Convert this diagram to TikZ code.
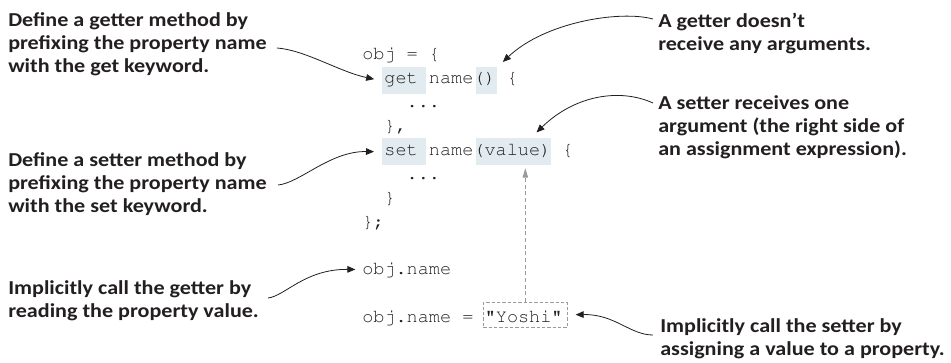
\documentclass[tikz,border=0pt]{standalone}
\usepackage{fontspec}
\setmainfont{Carlito}[FakeStretch=1.12]
\usetikzlibrary{arrows.meta,calc}
\definecolor{ink}{HTML}{231F20}
\definecolor{hlblue}{HTML}{E1EBF0}
\definecolor{dgray}{HTML}{9A9A9A}
\newcommand\codefnt{\fontencoding{T1}\fontfamily{pcr}\fontseries{m}\fontshape{n}\fontsize{13.9}{17}\selectfont}
\newcommand\lblfnt{\bfseries\fontsize{14.8}{17.25}\selectfont}
\begin{document}
\begin{tikzpicture}[x=0.75pt,y=-0.75pt,
  lbl/.style={font=\lblfnt, text=ink, align=left, anchor=north west, inner sep=0pt},
  code/.style={font=\codefnt, text=ink, anchor=base west, inner sep=0pt},
  hl/.style={fill=hlblue, draw=none, inner sep=0pt, anchor=north west},
  conn/.style={draw=ink, line width=0.6pt, -{Triangle[length=6pt,width=5pt]}, shorten >=6pt},
  gconn/.style={draw=dgray, line width=0.6pt, dash pattern=on 3pt off 2pt, -{Triangle[length=7pt,width=4pt]}, shorten >=2pt}
]
\useasboundingbox (0,0) rectangle (951,362);
% highlights
\node[hl, minimum width=33pt, minimum height=20.25pt] (hget) at (382,67) {};
\node[hl, minimum width=15.75pt, minimum height=20.25pt] (hparen) at (476,67) {};
\node[hl, minimum width=33pt, minimum height=20.25pt] (hset) at (382,138) {};
\node[hl, minimum width=56.25pt, minimum height=20.25pt] (hval) at (476,138) {};
\node[draw=dgray, dash pattern=on 2.5pt off 1.5pt, line width=0.5pt, minimum width=63pt, minimum height=18.75pt, anchor=north west, inner sep=0pt] (yoshi) at (483,302) {};
% code
\node[code] (c1) at (362,59) {obj = \{};
\node[code] (c2) at (384.2,83) {get name() \{};
\node[code] (c3) at (406.4,107) {...};
\node[code] (c4) at (384.2,131) {\},};
\node[code] (c5) at (384.2,155) {set name(value) \{};
\node[code] (c6) at (406.4,179) {...};
\node[code] (c7) at (384.2,203) {\}};
\node[code] (c8) at (362,227) {\};};
\node[code] (cget) at (362,274) {obj.name};
\node[code] (cset) at (362,322) {obj.name =};
\node[code] (ystr) at (484.5,322) {"Yoshi"};
% labels
\node[lbl] (getL) at (8,12) {Define a getter method by\\prefixing the property name\\with the get keyword.};
\node[lbl] (setL) at (8,152) {Define a setter method by\\prefixing the property name\\with the set keyword.};
\node[lbl] (implL) at (8,280) {Implicitly call the getter by\\reading the property value.};
\node[lbl] (getR) at (658,13) {A getter doesn’t\\receive any arguments.};
\node[lbl] (setR) at (658,95) {A setter receives one\\argument (the right side of\\an assignment expression).};
\node[lbl] (implR) at (660,318) {Implicitly call the setter by\\assigning a value to a property.};
% connectors
\coordinate (a1s) at (277,48);
\coordinate (a2s) at (278,185);
\coordinate (a3s) at (268,298);
\coordinate (a4s) at (653,19);
\coordinate (a5s) at (653,103);
\coordinate (a6s) at (653,335);
\draw[conn] (a1s) .. controls (305,50) and (340,72) .. (hget.west);
\draw[conn] (a2s) .. controls (300,183) and (330,151) .. (hset.west);
\draw[conn, shorten >=5pt] (a3s) .. controls (285,296) and (305,269) .. (cget.west);
\draw[conn, shorten >=5.5pt] (a4s) .. controls (620,10) and (545,22) .. (hparen.north east);
\draw[conn] (a5s) .. controls (620,88) and (575,95) .. ($(hval.north)+(17,0)$);
\draw[conn] (a6s) .. controls (630,335) and (615,314) .. (yoshi.east);
\draw[gconn] (yoshi.north) -- (yoshi.north |- hval.south);
\end{tikzpicture}
\end{document}
